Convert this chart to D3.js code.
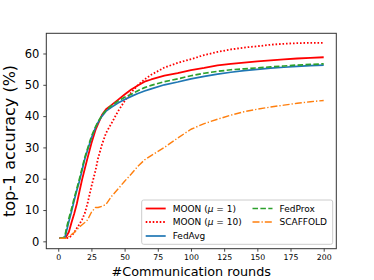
<!DOCTYPE html>
<html>
<head>
<meta charset="utf-8">
<script src="https://cdn.jsdelivr.net/npm/d3@7"></script>
<style>
  html, body { margin: 0; padding: 0; background: #fff; }
  svg { display: block; font-family: "DejaVu Sans", sans-serif; }
</style>
</head>
<body>
<svg id="chart" width="374" height="280"></svg>
<script>
// ---- data ----
const rounds = [1,3,5,6,8,10,12,14,16,18,20,22,25,28,30,33,36,40,45,50,55,60,65,70,80,90,100,110,120,130,140,150,160,170,180,190,200];
const moon1  = [1,1,1,1.5,3,6,8.8,12,16,19.8,23.2,26.5,31.3,35.5,37.5,40.4,42.2,43.5,45.2,46.9,48.5,49.8,51,51.7,52.9,53.7,54.7,55.4,56.2,56.7,57.1,57.5,57.8,58.1,58.4,58.6,58.8];
const moon10 = [1,1,1,1,1.2,1.8,2.8,4.2,5.5,7,9,12,17.5,22.5,26.5,31,34.6,37.6,41.5,44.8,47.6,49.9,51.7,53.2,55.5,57,58.2,59.5,60.5,61.3,61.9,62.3,62.8,63.1,63.3,63.4,63.4];
const fedavg = [1,1,1.2,2.8,6.3,9.5,13,16.3,19.3,22.8,26.3,29,33,36.3,38,40,41.6,42.8,44.2,45.3,46.3,47.2,48,48.7,50,50.9,51.9,52.7,53.4,54,54.5,54.9,55.3,55.6,55.9,56.1,56.3];
const fedprox= [1,1,1.5,3.8,7.3,10.3,13.8,16.8,20,23.4,26.8,29.5,33.5,36.5,38.2,40.3,41.9,43.3,44.8,46,47,48.1,49.1,49.8,51,51.9,52.9,53.7,54.3,54.8,55.1,55.4,55.7,56,56.3,56.5,56.7];
const scaffold=[1,1,1,1,1.5,2.2,2.8,3.7,4.6,5.3,6,6.8,9.3,10.8,10.8,11.2,11.8,14.3,16.7,19.2,21.5,24,26,27.4,30,33,35.8,37.6,39,40.3,41.4,42.2,42.9,43.5,44.1,44.6,45];
const xTicks = [0,25,50,75,100,125,150,175,200];
const yTicks = [0,10,20,30,40,50,60];
const seriesNames = ["MOON1","MOON10","FedAvg","FedProx","SCAFFOLD"];

const series = [
  {name: seriesNames[0], values: moon1,   color: "#ff0000", width: 1.8, dash: null},
  {name: seriesNames[1], values: moon10,  color: "#ff0000", width: 1.8, dash: "1.6,1.9"},
  {name: seriesNames[2], values: fedavg,  color: "#1f77b4", width: 1.7, dash: null},
  {name: seriesNames[3], values: fedprox, color: "#2ca02c", width: 1.7, dash: "5.5,2.4"},
  {name: seriesNames[4], values: scaffold,color: "#ff7f0e", width: 1.4, dash: "7,2,1.3,2"}
];

// ---- layout ----
const L = 46.3, R = 336.3, T = 33.3, B = 248.7;
const svg = d3.select("#chart");
const x = d3.scaleLinear().domain([-9, 209.5]).range([L, R]);
const y = d3.scaleLinear().domain([-2.35, 66.45]).range([B, T]);

// lines
const line = d3.line().x((d,i) => x(rounds[i])).y(d => y(d));
series.forEach(s => {
  svg.append("path")
    .attr("d", line(s.values))
    .attr("fill", "none")
    .attr("stroke", s.color)
    .attr("stroke-width", s.width)
    .attr("stroke-dasharray", s.dash)
    .attr("stroke-linejoin", "round");
});

// axes
const xAxis = d3.axisBottom(x).tickValues(xTicks).tickSize(3).tickPadding(3);
const yAxis = d3.axisLeft(y).tickValues(yTicks).tickSize(3).tickPadding(4);
const gx = svg.append("g").attr("transform", `translate(0,${B})`).call(xAxis);
gx.select(".domain").remove();
gx.selectAll("line").attr("stroke", "#333").attr("stroke-width", 0.9);
gx.selectAll("text").attr("font-size", 7.8).attr("fill", "#000").attr("font-family", "DejaVu Sans");
const gy = svg.append("g").attr("transform", `translate(${L},0)`).call(yAxis);
gy.select(".domain").remove();
gy.selectAll("line").attr("stroke", "#333").attr("stroke-width", 0.9);
gy.selectAll("text").attr("font-size", 11.5).attr("fill", "#000").attr("font-family", "DejaVu Sans");

// frame
svg.append("rect").attr("x", L).attr("y", T).attr("width", R - L).attr("height", B - T)
  .attr("fill", "none").attr("stroke", "#333").attr("stroke-width", 1);

// axis labels
svg.append("text").attr("x", (L + R) / 2).attr("y", 276).attr("text-anchor", "middle")
  .attr("font-size", 12.8).attr("fill", "#000").text("#Communication rounds");
svg.append("text").attr("transform", `translate(15,${(T + B) / 2}) rotate(-90)`)
  .attr("text-anchor", "middle").attr("font-size", 16).attr("fill", "#000")
  .text("top-1 accuracy (%)");

// legend
const lg = svg.append("g");
lg.append("rect").attr("x", 141.7).attr("y", 200).attr("width", 191).attr("height", 44.3)
  .attr("rx", 2).attr("fill", "#fff").attr("fill-opacity", 0.8)
  .attr("stroke", "#ccc").attr("stroke-width", 1);
const legendItems = [
  {s: series[0], x: 145.7, y: 208.5, label: ["MOON (", "μ", " = 1)"]},
  {s: series[1], x: 145.7, y: 222, label: ["MOON (", "μ", " = 10)"]},
  {s: series[2], x: 145.7, y: 236, label: ["FedAvg"]},
  {s: series[3], x: 252.5, y: 208.5, label: ["FedProx"]},
  {s: series[4], x: 252.5, y: 222, label: ["SCAFFOLD"]}
];
legendItems.forEach(it => {
  lg.append("line").attr("x1", it.x).attr("x2", it.x + 20).attr("y1", it.y).attr("y2", it.y)
    .attr("stroke", it.s.color).attr("stroke-width", it.s.width).attr("stroke-dasharray", it.s.dash);
  const t = lg.append("text").attr("x", it.x + 27).attr("y", it.y + 3.3)
    .attr("font-size", 9).attr("fill", "#000");
  it.label.forEach((p, i) => {
    const ts = t.append("tspan").text(p);
    if (p === "μ") ts.attr("font-style", "italic");
  });
});
</script>
</body>
</html>
